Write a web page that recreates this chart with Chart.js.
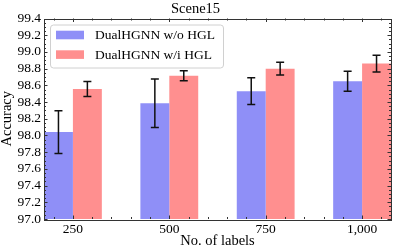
<!DOCTYPE html>
<html>
<head>
<meta charset="utf-8">
<script src="https://cdn.jsdelivr.net/npm/chart.js@4"></script>
<style>
  html, body { margin: 0; padding: 0; background: #fff; }
  #wrap { width: 399px; height: 249px; }
</style>
</head>
<body>
<div id="wrap"><canvas id="chart"></canvas></div>
<script>
const categories = ["250", "500", "750", "1,000"]
const seriesNames = ["DualHGNN w/o HGL", "DualHGNN w/i HGL"]
const withoutHGL = [98.04, 98.385, 98.53, 98.65]
const withoutHGLErr = [0.255, 0.29, 0.16, 0.12]
const withHGL = [98.555, 98.715, 98.80, 98.86]
const withHGLErr = [0.09, 0.06, 0.075, 0.10]
const yTicks = [97.0, 97.2, 97.4, 97.6, 97.8, 98.0, 98.2, 98.4, 98.6, 98.8, 99.0, 99.2, 99.4]

const FONT = "'Liberation Serif', 'Times New Roman', serif"
const errors = [withoutHGLErr, withHGLErr]

// error bars on top of the bars
const errorBars = {
  id: "errorBars",
  afterDatasetsDraw(chart) {
    const ctx = chart.ctx
    const y = chart.scales.y
    ctx.save()
    ctx.strokeStyle = "#111"
    ctx.lineWidth = 1.5
    chart.data.datasets.forEach((ds, di) => {
      const meta = chart.getDatasetMeta(di)
      meta.data.forEach((bar, i) => {
        const v = ds.data[i].y
        const e = errors[di][i]
        const top = y.getPixelForValue(v + e)
        const bot = y.getPixelForValue(v - e)
        ctx.beginPath()
        ctx.moveTo(bar.x, top)
        ctx.lineTo(bar.x, bot)
        ctx.moveTo(bar.x - 4, top)
        ctx.lineTo(bar.x + 4, top)
        ctx.moveTo(bar.x - 4, bot)
        ctx.lineTo(bar.x + 4, bot)
        ctx.stroke()
      })
    })
    ctx.restore()
  },
}

// frame with inward ticks on all four sides
const frame = {
  id: "frame",
  afterDatasetsDraw(chart) {
    const { ctx, chartArea: a } = chart
    const x = chart.scales.x
    const y = chart.scales.y
    ctx.save()
    ctx.strokeStyle = "#333"
    ctx.lineWidth = 1
    ctx.beginPath()
    for (let v = -0.2; v <= 3.21; v += 0.2) {
      const px = Math.round(x.getPixelForValue(v)) + 0.5
      const major = Math.abs(v - Math.round(v)) < 0.01
      const len = major ? 3.5 : 2
      ctx.moveTo(px, a.bottom)
      ctx.lineTo(px, a.bottom - len)
      ctx.moveTo(px, a.top)
      ctx.lineTo(px, a.top + len)
    }
    for (let v = 97.0; v <= 99.401; v += 0.05) {
      const py = Math.round(y.getPixelForValue(v)) + 0.5
      const major = yTicks.some((t) => Math.abs(t - v) < 0.001)
      const len = major ? 3.5 : 2
      ctx.moveTo(a.left, py)
      ctx.lineTo(a.left + len, py)
      ctx.moveTo(a.right, py)
      ctx.lineTo(a.right - len, py)
    }
    ctx.stroke()
    ctx.strokeRect(Math.round(a.left) + 0.5, Math.round(a.top) + 0.5,
      Math.round(a.right - a.left), Math.round(a.bottom - a.top))
    ctx.restore()
  },
}

// legend box in the upper left of the plot
const boxLegend = {
  id: "boxLegend",
  afterDraw(chart) {
    const { ctx, chartArea: a } = chart
    const left = a.left + 6, top = a.top + 6, w = 173, h = 43
    ctx.save()
    ctx.fillStyle = "rgba(255,255,255,0.85)"
    ctx.strokeStyle = "#d0d0d0"
    ctx.lineWidth = 1
    ctx.beginPath()
    ctx.roundRect(left + 0.5, top + 0.5, w, h, 3)
    ctx.fill()
    ctx.stroke()
    ctx.font = "13.5px " + FONT
    ctx.textBaseline = "middle"
    chart.data.datasets.forEach((ds, i) => {
      const cy = top + 10.5 + i * 19.6
      ctx.fillStyle = ds.backgroundColor
      ctx.fillRect(left + 6, cy - 4.3, 28, 8.6)
      ctx.fillStyle = "#000"
      ctx.fillText(ds.label, left + 45, cy + 0.5)
    })
    ctx.restore()
  },
}

new Chart(document.getElementById("chart"), {
  type: "bar",
  data: {
    datasets: [
      {
        label: seriesNames[0],
        data: withoutHGL.map((v, i) => ({ x: i, y: v })),
        backgroundColor: "rgb(143,143,247)",
      },
      {
        label: seriesNames[1],
        data: withHGL.map((v, i) => ({ x: i, y: v })),
        backgroundColor: "rgb(255,143,143)",
      },
    ],
  },
  options: {
    responsive: true,
    maintainAspectRatio: false,
    animation: false,
    devicePixelRatio: 1,
    layout: { padding: { left: 0, right: 8, top: 0, bottom: 0 } },
    datasets: { bar: { categoryPercentage: 0.6, barPercentage: 1.0, borderWidth: 0 } },
    scales: {
      x: {
        type: "linear",
        offset: false,
        min: -0.3,
        max: 3.3,
        afterFit: (s) => { s.height = 30 },
        grid: { display: false, drawTicks: false },
        border: { display: false },
        ticks: {
          stepSize: 1,
          includeBounds: false,
          padding: 4,
          color: "#000",
          font: { family: FONT, size: 13.5, lineHeight: 1 },
          callback: (v) => categories[v] ?? "",
        },
        title: {
          display: true,
          text: "No. of labels",
          color: "#000",
          padding: { top: 0, bottom: 1 },
          font: { family: FONT, size: 14.5, lineHeight: 1 },
        },
      },
      y: {
        min: 97.0,
        max: 99.4,
        afterFit: (s) => { s.width = 44 },
        grid: { display: false, drawTicks: false },
        border: { display: false },
        afterBuildTicks: (s) => { s.ticks = yTicks.map((v) => ({ value: v })) },
        ticks: {
          autoSkip: false,
          padding: 3,
          color: "#000",
          font: { family: FONT, size: 13.5, lineHeight: 1 },
          callback: (v) => Number(v).toFixed(1),
        },
        title: {
          display: true,
          text: "Accuracy",
          color: "#000",
          padding: { top: 0, bottom: 0 },
          font: { family: FONT, size: 14.5, lineHeight: 1 },
        },
      },
    },
    plugins: {
      legend: { display: false },
      tooltip: { enabled: false },
      title: {
        display: true,
        text: "Scene15",
        color: "#000",
        padding: { top: 2, bottom: 2 },
        font: { family: FONT, size: 14.5, weight: "normal", lineHeight: 1 },
      },
    },
  },
  plugins: [errorBars, frame, boxLegend],
})
</script>
</body>
</html>
